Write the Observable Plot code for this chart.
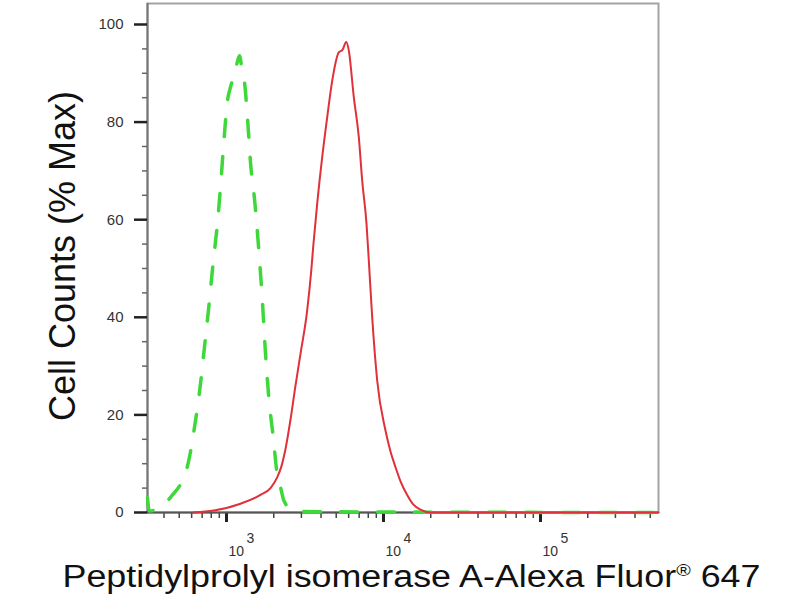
<!DOCTYPE html>
<html>
<head>
<meta charset="utf-8">
<script src="https://cdn.jsdelivr.net/npm/d3@7"></script>
<script src="https://cdn.jsdelivr.net/npm/@observablehq/plot@0.6"></script>
<style>
  body { margin: 0; background: #fff; }
</style>
</head>
<body>
<div id="chart"></div>
<script>
// isotype control (green dashed) - fluorescence intensity / % max
const greenX = [314, 323, 380, 440, 562, 626, 683, 724, 772, 823, 876, 920, 961, 1010, 1068, 1130, 1210, 1259, 1302, 1367, 1422, 1515, 1592, 1688, 1772, 1860, 1985, 2103, 2208, 2317, 2621, 2961, 9569, 564400]
const greenY = [3, 0.3, 1.1, 3.1, 9.3, 17.5, 26.4, 33.9, 42.2, 51.3, 59.3, 67.5, 75.7, 83.9, 87.5, 90, 93.6, 90.5, 88.2, 80, 71.8, 63.6, 55.4, 44, 32.6, 23.6, 15.4, 7.9, 5.2, 2.5, 0.5, 0.2, 0.1, 0]

// sample (red solid)
const redX = [619, 830, 1228, 1647, 1907, 2103, 2240, 2376, 2556, 2751, 2961, 3266, 3468, 3566, 3782, 4070, 4381, 4715, 5192, 5482, 5786, 6011, 6470, 6963, 7318, 7794, 8085, 8474, 9120, 10298, 11081, 11924, 12834, 14157, 15531, 17210, 19927, 564400]
const redY = [0, 0.4, 1.8, 3.6, 5, 7.2, 9.5, 13, 19, 26, 32.5, 41.4, 49.6, 54.4, 63.3, 72.8, 81, 88.5, 94.3, 94.8, 96.4, 94.7, 85.1, 76.9, 68, 59.2, 51, 40, 27, 16.8, 12.5, 9.3, 6.4, 3.6, 1.6, 0.6, 0, 0]

// ticks
const yMajor = [0, 20, 40, 60, 80, 100]
const yMinor = [5, 10, 15, 25, 30, 35, 45, 50, 55, 65, 70, 75, 85, 90, 95]
const xMajor = [1000, 10000, 100000]
const xExp = ["3", "4", "5"]
const xMinor = [400, 500, 600, 700, 800, 900,
  2000, 3000, 4000, 5000, 6000, 7000, 8000, 9000,
  20000, 30000, 40000, 50000, 60000, 70000, 80000, 90000,
  200000, 300000, 400000, 500000]

const xTitle = "Peptidylprolyl isomerase A-Alexa Fluor® 647"
const yTitle = "Cell Counts (% Max)"

const green = greenX.map((x, i) => ({x: x, y: greenY[i]}))
const red = redX.map((x, i) => ({x: x, y: redY[i]}))
const majors = xMajor.map((v, i) => ({v: v, e: xExp[i]}))

let chart = Plot.plot({
  width: 800,
  height: 600,
  marginLeft: 147,
  marginRight: 142,
  marginTop: 3,
  marginBottom: 88,
  style: {fontFamily: "'Liberation Sans', Arial, sans-serif", background: "#fff"},
  x: {type: "log", domain: [314, 564400], axis: null},
  y: {domain: [0, 104.3], axis: null},
  marks: [
    Plot.frame({stroke: "#a3a3a3", strokeWidth: 2}),
    Plot.ruleX([314], {stroke: "#777", strokeWidth: 2}),
    Plot.axisY(yMinor, {tickSize: 5, tickFormat: () => "", stroke: "#666", strokeWidth: 1.5, label: null}),
    Plot.axisY(yMajor, {tickSize: 13, tickPadding: 11, fontSize: 15, stroke: "#222", strokeWidth: 2.5, fill: "#333", label: null}),
    Plot.axisX(xMinor, {tickSize: 6, tickFormat: () => "", stroke: "#444", strokeWidth: 1.5, label: null}),
    Plot.axisX(xMajor, {tickSize: 10, tickFormat: () => "", stroke: "#222", strokeWidth: 3, label: null}),
    Plot.ruleY([0], {stroke: "#555", strokeWidth: 2}),
    // 10^n labels
    Plot.text(majors, {x: "v", y: () => 0, text: () => "10", textAnchor: "start", dx: 2, dy: 39, fontSize: 14, fill: "#333"}),
    Plot.text(majors, {x: "v", y: () => 0, text: "e", textAnchor: "start", dx: 20, dy: 26, fontSize: 14, fill: "#333"}),
    Plot.line(green, {x: "x", y: "y", stroke: "#3fd83a", strokeWidth: 3.5, strokeDasharray: "17,20", curve: "monotone-x"}),
    Plot.line(red, {x: "x", y: "y", stroke: "#e0303a", strokeWidth: 2, curve: "monotone-x"}),
    Plot.text([xTitle], {frameAnchor: "bottom", textAnchor: "middle", lineAnchor: "middle", dx: 8.5, dy: 65, fontSize: 31, fill: "#111"}),
    Plot.text([yTitle], {frameAnchor: "left", textAnchor: "middle", lineAnchor: "middle", rotate: -90, dx: -84.5, dy: -2, fontSize: 36, fill: "#111"})
  ]
})

// reference text is a bit wider than the font: stretch the x title and make ® a superscript
d3.select(chart).selectAll("text")
  .filter(function() { return this.textContent === xTitle })
  .each(function() {
    const t = d3.select(this)
    const parts = xTitle.split("®")
    t.text(null)
    t.append("tspan").text(parts[0])
    t.append("tspan").attr("font-size", "55%").attr("dy", "-0.7em").text("®")
    t.append("tspan").attr("dy", "0.385em").text(parts[1])
    t.attr("textLength", 698).attr("lengthAdjust", "spacingAndGlyphs")
  })

d3.select('#chart').append(() => chart)
</script>
</body>
</html>
